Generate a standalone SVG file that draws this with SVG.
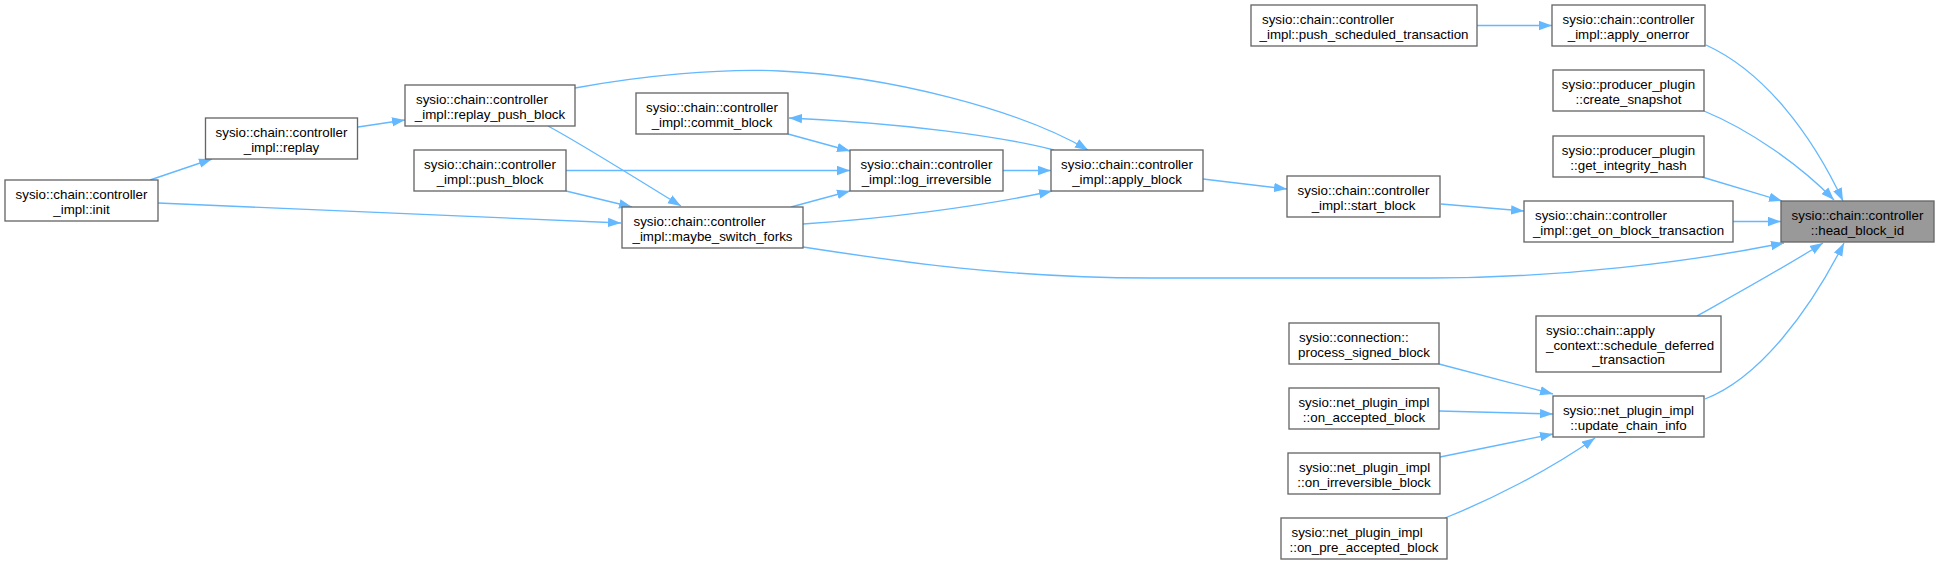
<svg xmlns="http://www.w3.org/2000/svg" width="1939" height="565" viewBox="0 0 1939 565">
<style>
.n rect{fill:#ffffff;stroke:#666666;stroke-width:1.33}
.n.h rect{fill:#999999}
.n text{font-family:"Liberation Sans",Arial,Helvetica,sans-serif;font-size:13.33px;fill:#000000}
.c{text-anchor:middle}
.e path{fill:none;stroke:#63b8ff;stroke-width:1.33;marker-end:url(#a)}
</style>
<defs>
<marker id="a" markerUnits="userSpaceOnUse" markerWidth="14" markerHeight="10" refX="13" refY="5" orient="auto" viewBox="0 0 14 10">
<path d="M0,0.3 L13,5 L0,9.7 Z" fill="#63b8ff"/>
</marker>
</defs>
<rect width="1939" height="565" fill="#ffffff"/>
<g id="edges" class="e">
<path d="M150,180 L212,159"/>
<path d="M158,203 L621,223"/>
<path d="M358,127 L405,120"/>
<path d="M575,88 C640,76 720,68 780,71 C890,76 1020,110 1088,150"/>
<path d="M548,126 C585,146 635,178 681,206"/>
<path d="M566,170.5 L850,170.5"/>
<path d="M566,191 L632,207"/>
<path d="M788,134 L850,151"/>
<path d="M1054,150 C1000,136 900,123 789,118"/>
<path d="M1003,170.5 L1051,170.5"/>
<path d="M791,207 L850,191"/>
<path d="M803,224 C880,219 980,207 1052,191"/>
<path d="M803,247 C900,262 1010,278 1150,278 L1430,278 C1560,278 1690,262 1784,243"/>
<path d="M1203,179 L1287,189"/>
<path d="M1441,204 L1524,211"/>
<path d="M1733,221.5 L1781,221.5"/>
<path d="M1477,25.5 L1552,25.5"/>
<path d="M1706,45 C1765,72 1812,135 1843,201"/>
<path d="M1704,111 C1750,130 1800,165 1834,200"/>
<path d="M1702,177 L1782,201"/>
<path d="M1697,316 C1720,303 1780,270 1823,243"/>
<path d="M1705,399 C1760,378 1810,310 1844,243"/>
<path d="M1439,364 L1553,394"/>
<path d="M1439,411 L1553,414"/>
<path d="M1440,457 L1553,434"/>
<path d="M1445,518 C1490,500 1550,470 1595,438"/>
</g>
<g id="init" class="n"><rect x="5" y="180" width="153" height="41"/><text class="c" x="81.5" y="199">sysio::chain::controller</text><text class="c" x="81.5" y="213.5">_impl::init</text></g>
<g id="replay" class="n"><rect x="205.5" y="118" width="152" height="41"/><text class="c" x="281.5" y="137">sysio::chain::controller</text><text class="c" x="281.5" y="151.5">_impl::replay</text></g>
<g id="replay_push_block" class="n"><rect x="405" y="85" width="170" height="41"/><text x="416" y="104">sysio::chain::controller</text><text class="c" x="490" y="118.5">_impl::replay_push_block</text></g>
<g id="push_block" class="n"><rect x="414" y="150" width="152" height="41"/><text class="c" x="490" y="169">sysio::chain::controller</text><text class="c" x="490" y="183.5">_impl::push_block</text></g>
<g id="commit_block" class="n"><rect x="636" y="93" width="152" height="41"/><text class="c" x="712" y="112">sysio::chain::controller</text><text class="c" x="712" y="126.5">_impl::commit_block</text></g>
<g id="maybe_switch_forks" class="n"><rect x="622" y="207" width="181" height="41"/><text x="633.5" y="226">sysio::chain::controller</text><text class="c" x="712.5" y="240.5">_impl::maybe_switch_forks</text></g>
<g id="log_irreversible" class="n"><rect x="850" y="150" width="153" height="41"/><text class="c" x="926.5" y="169">sysio::chain::controller</text><text class="c" x="926.5" y="183.5">_impl::log_irreversible</text></g>
<g id="apply_block" class="n"><rect x="1051" y="150" width="152" height="41"/><text class="c" x="1127" y="169">sysio::chain::controller</text><text class="c" x="1127" y="183.5">_impl::apply_block</text></g>
<g id="start_block" class="n"><rect x="1287" y="176" width="153" height="41"/><text class="c" x="1363.5" y="195">sysio::chain::controller</text><text class="c" x="1363.5" y="209.5">_impl::start_block</text></g>
<g id="push_scheduled_transaction" class="n"><rect x="1251" y="5" width="226" height="41"/><text x="1262" y="24">sysio::chain::controller</text><text class="c" x="1364" y="38.5">_impl::push_scheduled_transaction</text></g>
<g id="process_signed_block" class="n"><rect x="1289" y="323" width="150" height="41"/><text x="1299" y="342">sysio::connection::</text><text class="c" x="1364" y="356.5">process_signed_block</text></g>
<g id="on_accepted_block" class="n"><rect x="1289" y="388" width="150" height="41"/><text class="c" x="1364" y="407">sysio::net_plugin_impl</text><text class="c" x="1364" y="421.5">::on_accepted_block</text></g>
<g id="on_irreversible_block" class="n"><rect x="1288" y="453" width="152" height="41"/><text x="1299" y="472">sysio::net_plugin_impl</text><text class="c" x="1364" y="486.5">::on_irreversible_block</text></g>
<g id="on_pre_accepted_block" class="n"><rect x="1281" y="518" width="166" height="41"/><text x="1291.5" y="537">sysio::net_plugin_impl</text><text class="c" x="1364" y="551.5">::on_pre_accepted_block</text></g>
<g id="apply_onerror" class="n"><rect x="1552" y="5" width="153" height="41"/><text class="c" x="1628.5" y="24">sysio::chain::controller</text><text class="c" x="1628.5" y="38.5">_impl::apply_onerror</text></g>
<g id="create_snapshot" class="n"><rect x="1553" y="70" width="151" height="41"/><text class="c" x="1628.5" y="89">sysio::producer_plugin</text><text class="c" x="1628.5" y="103.5">::create_snapshot</text></g>
<g id="get_integrity_hash" class="n"><rect x="1553" y="136" width="151" height="41"/><text class="c" x="1628.5" y="155">sysio::producer_plugin</text><text class="c" x="1628.5" y="169.5">::get_integrity_hash</text></g>
<g id="get_on_block_transaction" class="n"><rect x="1524" y="201" width="209" height="41"/><text x="1535" y="220">sysio::chain::controller</text><text class="c" x="1628.5" y="234.5">_impl::get_on_block_transaction</text></g>
<g id="schedule_deferred_transaction" class="n"><rect x="1536" y="316" width="185" height="56"/><text x="1546" y="335">sysio::chain::apply</text><text x="1546" y="349.5">_context::schedule_deferred</text><text class="c" x="1628.5" y="364">_transaction</text></g>
<g id="update_chain_info" class="n"><rect x="1553" y="396" width="151" height="41"/><text class="c" x="1628.5" y="415">sysio::net_plugin_impl</text><text class="c" x="1628.5" y="429.5">::update_chain_info</text></g>
<g id="head_block_id" class="n h"><rect x="1781" y="201" width="153" height="41"/><text class="c" x="1857.5" y="220">sysio::chain::controller</text><text class="c" x="1857.5" y="234.5">::head_block_id</text></g>
</svg>
